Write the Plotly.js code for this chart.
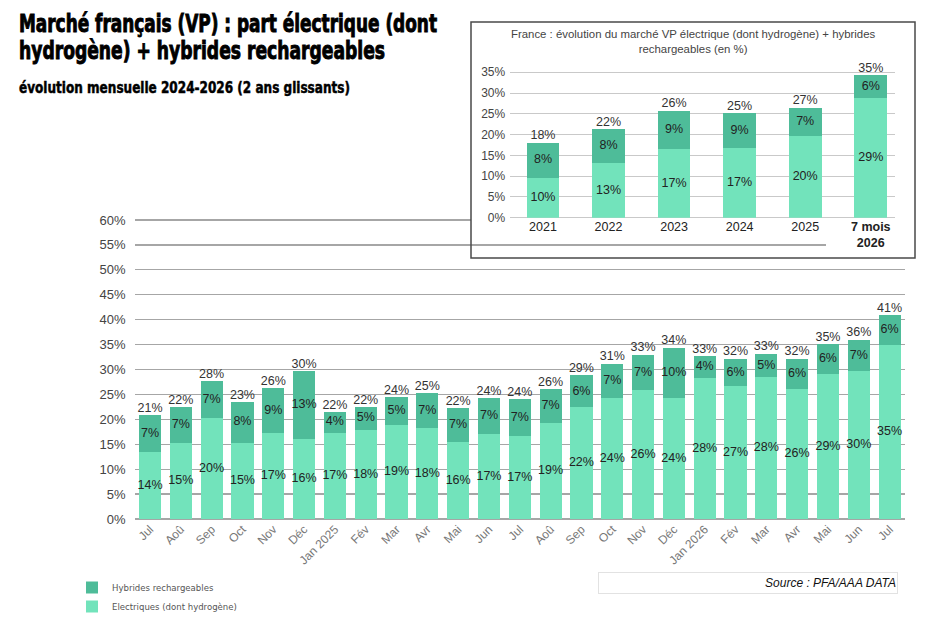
<!DOCTYPE html>
<html>
<head>
<meta charset="utf-8">
<script src="https://cdn.plot.ly/plotly-3.0.1.min.js"></script>
<style>html,body{margin:0;padding:0;background:#fff;}#chart{width:935px;height:634px;}</style>
</head>
<body>
<div id="chart"></div>
<script>
// ---- Main chart data (monthly, Jul 2024 -> Jul 2026) ----
var months = ["Jul","Aoû","Sep","Oct","Nov","Déc","Jan 2025","Fév","Mar","Avr","Mai","Jun","Jul","Aoû","Sep","Oct","Nov","Déc","Jan 2026","Fév","Mar","Avr","Mai","Jun","Jul"];
var elecMain = [13.4,15.2,20.2,15.3,17.3,16.1,17.3,17.9,18.9,18.2,15.5,17.1,16.7,19.3,22.4,24.2,25.8,24.3,28.2,26.6,28.4,26.1,29.0,29.6,34.9];
var hybMain  = [7.5,7.3,7.4,8.2,8.9,13.5,4.2,4.6,5.5,7.1,6.7,7.1,7.3,6.7,6.4,7.0,7.2,10.1,4.5,5.6,4.8,6.1,6.1,6.4,6.0];
var elecMainLbl  = [14,15,20,15,17,16,17,18,19,18,16,17,17,19,22,24,26,24,28,27,28,26,29,30,35];
var hybMainLbl   = [7,7,7,8,9,13,4,5,5,7,7,7,7,7,6,7,7,10,4,6,5,6,6,7,6];
var totalMainLbl = [21,22,28,23,26,30,22,22,24,25,22,24,24,26,29,31,33,34,33,32,33,32,35,36,41];

// ---- Inset data (yearly) ----
var years = ["2021","2022","2023","2024","2025","<b>7 mois<br>2026</b>"];
var elecYear = [9.5,13.1,16.5,16.7,19.7,28.7];
var hybYear  = [8.6,8.3,9.3,8.4,6.8,5.7];
var elecYearLbl  = [10,13,17,17,20,29];
var hybYearLbl   = [8,8,9,9,7,6];
var totalYearLbl = [18,22,26,25,27,35];

var names = ["Electriques (dont hydrogène)","Hybrides rechargeables"];
var cElec = "#72e3bb", cHyb = "#4ebc99";
var labelFont = {family:"Liberation Sans, Arial, sans-serif", size:12.5, color:"#222"};

function idx(a){ return a.map(function(_, i){ return i; }); }
function pct(a){ return a.map(function(v){ return v + "%"; }); }
function half(a){ return a.map(function(v){ return v/2; }); }
function mid(a,b){ return a.map(function(v,i){ return v + b[i]/2; }); }
function sum(a,b){ return a.map(function(v,i){ return v + b[i]; }); }

var xm = idx(months), xy = idx(years);

var traces = [
  {type:"bar", x:xm, y:elecMain, name:names[0], marker:{color:cElec}, xaxis:"x", yaxis:"y", hoverinfo:"skip"},
  {type:"bar", x:xm, y:hybMain, name:names[1], marker:{color:cHyb}, xaxis:"x", yaxis:"y", hoverinfo:"skip"},
  {type:"scatter", mode:"text", x:xm, y:half(elecMain), text:pct(elecMainLbl), textfont:labelFont, showlegend:false, hoverinfo:"skip"},
  {type:"scatter", mode:"text", x:xm, y:mid(elecMain,hybMain), text:pct(hybMainLbl), textfont:labelFont, showlegend:false, hoverinfo:"skip"},
  {type:"scatter", mode:"text", x:xm, y:sum(elecMain,hybMain), text:pct(totalMainLbl), textposition:"top center", textfont:{family:labelFont.family,size:12.5,color:"#333"}, showlegend:false, hoverinfo:"skip"},
  // cover subplots (white backgrounds of the inset box)
  {type:"scatter", x:[], y:[], xaxis:"x2", yaxis:"y2", showlegend:false, hoverinfo:"skip"},
  {type:"scatter", x:[], y:[], xaxis:"x3", yaxis:"y3", showlegend:false, hoverinfo:"skip"},
  // inset
  {type:"bar", x:xy, y:elecYear, width:0.5, marker:{color:cElec}, xaxis:"x4", yaxis:"y4", showlegend:false, hoverinfo:"skip"},
  {type:"bar", x:xy, y:hybYear, width:0.5, marker:{color:cHyb}, xaxis:"x4", yaxis:"y4", showlegend:false, hoverinfo:"skip"},
  {type:"scatter", mode:"text", x:xy, y:half(elecYear), text:pct(elecYearLbl), textfont:labelFont, xaxis:"x4", yaxis:"y4", showlegend:false, hoverinfo:"skip"},
  {type:"scatter", mode:"text", x:xy, y:mid(elecYear,hybYear), text:pct(hybYearLbl), textfont:labelFont, xaxis:"x4", yaxis:"y4", showlegend:false, hoverinfo:"skip"},
  {type:"scatter", mode:"text", x:xy, y:sum(elecYear,hybYear), text:pct(totalYearLbl), textposition:"top center", textfont:{family:labelFont.family,size:12.5,color:"#333"}, xaxis:"x4", yaxis:"y4", showlegend:false, hoverinfo:"skip"}
];

var W = 935, H = 634;
function px(x){ return x / W; }
function py(y){ return 1 - y / H; }
var titleFont = {family:"DejaVu Sans Condensed, Liberation Sans Narrow, Arial Narrow, sans-serif", size:24, color:"#000", weight:"bold"};

var hidden = {visible:true, showgrid:false, zeroline:false, showticklabels:false, ticks:"", fixedrange:true, range:[0,1]};

var layout = {
  width:W, height:H,
  margin:{l:0, r:0, t:0, b:0},
  paper_bgcolor:"#fff", plot_bgcolor:"#fff",
  barmode:"stack", bargap:0.28,
  showlegend:true,
  legend:{x:px(72), y:py(573), xanchor:"left", yanchor:"top", orientation:"v",
          font:{family:"DejaVu Sans Condensed, DejaVu Sans, sans-serif", size:9.5, color:"#555"},
          bgcolor:"rgba(0,0,0,0)"},
  font:{family:"Liberation Sans, Arial, sans-serif"},
  xaxis:{domain:[px(134.6), px(905)], range:[-0.5,24.5], tickvals:xm, ticktext:months, tickangle:-45,
         tickfont:{size:12, color:"#777"}, showgrid:false, zeroline:false, showline:false, ticks:"", fixedrange:true, anchor:"y"},
  yaxis:{domain:[py(519), py(216.5)], range:[0,60.7], dtick:5, tick0:0, ticksuffix:"%", tickfont:{size:13, color:"#444"},
         showgrid:true, gridcolor:"#a6a6a6", gridwidth:1.2, zeroline:true, zerolinecolor:"#a6a6a6", zerolinewidth:1.2,
         showline:false, ticks:"", ticklabelstandoff:8, fixedrange:true, anchor:"x"},
  // cover 1 : most of inset box
  xaxis2:Object.assign({}, hidden, {domain:[px(471), px(915)], anchor:"y2"}),
  yaxis2:Object.assign({}, hidden, {domain:[py(240), py(22)], anchor:"x2"}),
  // cover 2 : lower right corner of the box
  xaxis3:Object.assign({}, hidden, {domain:[px(826), px(915)], anchor:"y3"}),
  yaxis3:Object.assign({}, hidden, {domain:[py(258), py(239)], anchor:"x3"}),
  // inset axes
  xaxis4:{domain:[px(510.2), px(895)], range:[-0.5,5.37], tickvals:xy, ticktext:years, tickfont:{size:12.5, color:"#222"},
          showgrid:false, zeroline:false, showline:false, ticks:"", fixedrange:true, anchor:"y4"},
  yaxis4:{domain:[py(217.7), py(61.9)], range:[0,37.5], dtick:5, tick0:0, ticksuffix:"%", tickfont:{size:12, color:"#444"},
          showgrid:true, gridcolor:"#c9c9c9", gridwidth:1, zeroline:true, zerolinecolor:"#c9c9c9", zerolinewidth:1,
          showline:false, ticks:"", ticklabelstandoff:4, fixedrange:true, anchor:"x4"},
  shapes:[
    {type:"rect", xref:"paper", yref:"paper", x0:px(471), x1:px(915), y0:py(258), y1:py(22), line:{color:"#4a4a4a", width:1.5}, fillcolor:"rgba(0,0,0,0)", layer:"above"}
  ],
  annotations:[
    {xref:"paper", yref:"paper", x:px(17), y:py(24), xanchor:"left", yanchor:"middle", showarrow:false, align:"left",
     text:"Marché français (VP) : part électrique (dont", font:titleFont},
    {xref:"paper", yref:"paper", x:px(17), y:py(51), xanchor:"left", yanchor:"middle", showarrow:false, align:"left",
     text:"hydrogène) + hybrides rechargeables", font:titleFont},
    {xref:"paper", yref:"paper", x:px(17), y:py(87), xanchor:"left", yanchor:"middle", showarrow:false, align:"left",
     text:"évolution mensuelle 2024-2026 (2 ans glissants)", font:{family:titleFont.family, size:16, color:"#000", weight:"bold"}},
    {xref:"paper", yref:"paper", x:px(693), y:py(41), xanchor:"center", yanchor:"middle", showarrow:false, align:"center",
     text:"France : évolution du marché VP électrique (dont hydrogène) + hybrides<br>rechargeables (en %)",
     font:{family:"Liberation Sans, Arial, sans-serif", size:11.4, color:"#444"}},
    {xref:"paper", yref:"paper", x:px(898), y:py(583), xanchor:"right", yanchor:"middle", showarrow:false, align:"right",
     width:296, height:18, bordercolor:"#e2e2e2", borderwidth:1, borderpad:1, bgcolor:"#fff",
     text:"<i>Source : PFA/AAA DATA</i>", font:{family:"Liberation Sans, Arial, sans-serif", size:12, color:"#111"}}
  ]
};

// target widths (px) of the condensed heavy title lines
var titleWidths = [418, 366, 331];

Plotly.newPlot("chart", traces, layout, {displayModeBar:false, staticPlot:true}).then(function(gd){
  titleWidths.forEach(function(w, i){
    var t = gd.querySelector('.annotation[data-index="' + i + '"] text.annotation-text');
    if (t) {
      t.setAttribute("textLength", w);
      t.setAttribute("lengthAdjust", "spacingAndGlyphs");
      t.style.stroke = "#000";
      t.style.strokeWidth = i < 2 ? "0.9px" : "0.5px";
    }
  });
});
</script>
</body>
</html>
